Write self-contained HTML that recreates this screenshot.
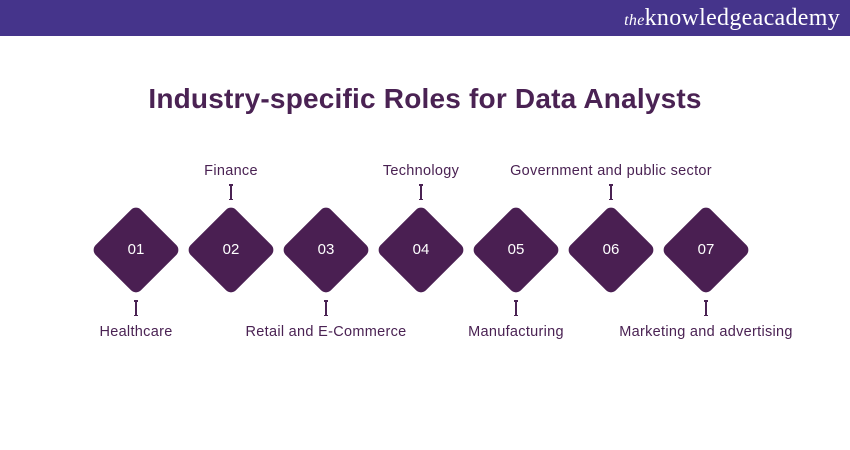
<!DOCTYPE html>
<html><head><meta charset="utf-8"><style>
body{margin:0;width:850px;height:450px;background:#fff;position:relative;overflow:hidden;font-family:"Liberation Sans",sans-serif;}
.hdr{position:absolute;left:0;top:0;width:850px;height:36px;background:#45348b;}
.logo{position:absolute;right:10px;top:5px;font-family:"Liberation Serif",serif;font-size:24px;color:#fff;letter-spacing:0.3px}
.logo i{font-size:16px}
.title{position:absolute;left:0;width:850px;top:83px;text-align:center;font-size:28px;font-weight:bold;color:#4a2253;letter-spacing:0.2px}
.d{position:absolute;width:64px;height:64px;background:#4a1f52;border-radius:7px;transform:rotate(45deg);}
.n{position:absolute;width:60px;text-align:center;color:#fff;font-size:15px;}
.lbl{position:absolute;font-size:14.5px;color:#4a2253;white-space:nowrap;transform:translateX(-50%);letter-spacing:0.3px}
.arr{position:absolute;width:1.5px;height:16px;background:#4a2253;}
.arr:before,.arr:after{content:"";position:absolute;left:-1.5px;width:4.5px;height:1.5px;background:#4a2253;}
.arr:before{top:0}.arr:after{bottom:0}
</style></head><body>
<div class="hdr"><div class="logo"><i>the</i>knowledgeacademy</div></div>
<div class="title">Industry-specific Roles for Data Analysts</div>
<div id="c"></div>
<script>
const numbers=["01","02","03","04","05","06","07"];
const labels=["Healthcare","Finance","Retail and E-Commerce","Technology","Manufacturing","Government and public sector","Marketing and advertising"];
const c=document.getElementById('c');
numbers.forEach((n,i)=>{
 const cx=136+95*i, cy=250;
 const d=document.createElement('div');d.className='d';
 
 
 d.style.left=(cx-32)+'px';d.style.top=(cy-32)+'px';c.appendChild(d);
 const t=document.createElement('div');t.className='n';t.textContent=n;
 
 
 t.style.left=(cx-30)+'px';t.style.top=(cy-9)+'px';c.appendChild(t);
 const top=i%2===1;
 const a=document.createElement('div');a.className='arr';
 
 
 a.style.left=(cx-0.75)+'px';a.style.top=(top?184:300)+'px';c.appendChild(a);
 const l=document.createElement('div');l.className='lbl';l.textContent=labels[i];
 
 
 l.style.left=cx+'px';l.style.top=(top?163:324)+'px';c.appendChild(l);
});
</script>
</body></html>
